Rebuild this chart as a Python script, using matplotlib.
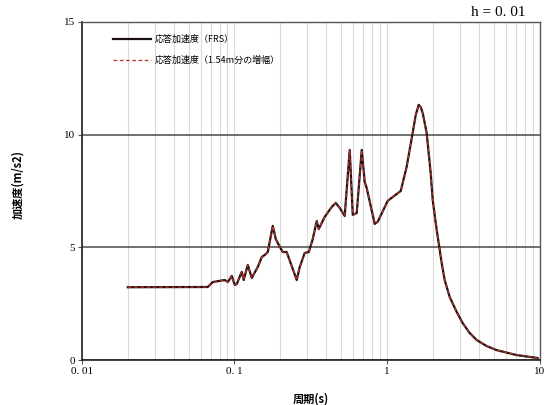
import matplotlib
matplotlib.use("Agg")
import matplotlib.pyplot as plt
from matplotlib.ticker import FixedLocator, NullFormatter, LogLocator

plt.rcParams['font.family'] = ['Noto Sans CJK JP', 'DejaVu Sans']

# Response spectrum, damping h = 0.01
period = [0.02, 0.0668, 0.0721, 0.0863, 0.0904, 0.0960, 0.1005, 0.1035, 0.1116,
          0.1150, 0.1222, 0.1298, 0.1422, 0.1510, 0.1579, 0.1652, 0.1782, 0.1864,
          0.1922, 0.2071, 0.2198, 0.2558, 0.2678, 0.2886, 0.3067, 0.3258, 0.3460,
          0.3565, 0.3902, 0.4337, 0.4604, 0.4893, 0.5275, 0.5689, 0.5957, 0.6324,
          0.6820, 0.7133, 0.7350, 0.8298, 0.8675, 1.009, 1.228, 1.343, 1.471,
          1.538, 1.610, 1.660, 1.711, 1.816, 1.930, 1.990, 2.113, 2.278, 2.383,
          2.570, 2.858, 3.127, 3.475, 3.861, 4.49, 5.22, 7.06, 9.69]
accel_frs = [3.23, 3.24, 3.46, 3.55, 3.46, 3.73, 3.33, 3.37, 3.91,
             3.55, 4.22, 3.64, 4.13, 4.57, 4.66, 4.79, 5.95, 5.37,
             5.19, 4.79, 4.79, 3.55, 4.13, 4.75, 4.79, 5.37, 6.17,
             5.81, 6.35, 6.79, 6.97, 6.75, 6.39, 9.32, 6.44, 6.52,
             9.32, 7.90, 7.63, 6.04, 6.13, 7.06, 7.50, 8.57, 10.08,
             10.85, 11.32, 11.22, 10.96, 10.08, 8.30, 7.10, 5.77, 4.31, 3.55,
             2.80, 2.13, 1.64, 1.20, 0.89, 0.62, 0.44, 0.22, 0.09]
accel_amp = list(accel_frs)

legend_labels = ['応答加速度（FRS）', '応答加速度（1.54m分の増幅）']
x_ticks = [0.01, 0.1, 1, 10]
x_tick_labels = ['0. 01', '0. 1', '1', '10']
y_ticks = [0, 5, 10, 15]

fig = plt.figure(figsize=(5.53, 4.05), dpi=100)
ax = fig.add_axes([0.148, 0.111, 0.828, 0.835])

ax.set_xscale('log')
ax.set_xlim(0.01, 10)
ax.set_ylim(0, 15)

# grid: light verticals at every log subdivision, dark horizontals at major steps
ax.xaxis.set_minor_locator(LogLocator(base=10, subs=range(2, 10)))
ax.xaxis.set_minor_formatter(NullFormatter())
ax.grid(which='minor', axis='x', color='#dadada', lw=0.8)
ax.grid(which='major', axis='x', color='#dadada', lw=0.8)
ax.grid(which='major', axis='y', color='#4a4a4a', lw=1.1)

ax.plot(period, accel_frs, color='#1a1010', lw=1.6, label=legend_labels[0],
        zorder=3, solid_joinstyle='round')
ax.plot(period, accel_amp, color='#c0302a', lw=0.9, ls=(0, (3, 2)),
        label=legend_labels[1], zorder=4)

ax.xaxis.set_major_locator(FixedLocator(x_ticks))
ax.set_xticklabels(x_tick_labels, family=['Liberation Serif'], fontsize=8)
ax.set_yticks(y_ticks)
ax.set_yticklabels([str(v) for v in y_ticks], family=['Liberation Serif'], fontsize=8)
ax.tick_params(which='major', length=3, width=0.8, color='#555555', pad=2)
ax.tick_params(which='minor', length=0)

for side in ['left', 'bottom']:
    ax.spines[side].set_color('#222222')
    ax.spines[side].set_linewidth(1.2)
for side in ['top', 'right']:
    ax.spines[side].set_color('#555555')
    ax.spines[side].set_linewidth(1.0)

ax.set_xlabel('周期(s)', fontsize=8, fontweight='bold', labelpad=12)
ax.set_ylabel('加速度(m/s2)', fontsize=8, fontweight='bold', labelpad=26)
ax.yaxis.set_label_coords(-0.125, 0.52)

leg = ax.legend(loc='upper left', bbox_to_anchor=(0.05, 0.985), frameon=False,
                fontsize=6.5, handlelength=4.2, handletextpad=0.4, labelspacing=1.3)

fig.text(0.950, 0.970, 'h = 0. 01', ha='right', va='center', fontsize=11,
         family=['Liberation Serif'])

fig.savefig('out.png', dpi=100, facecolor='white')
